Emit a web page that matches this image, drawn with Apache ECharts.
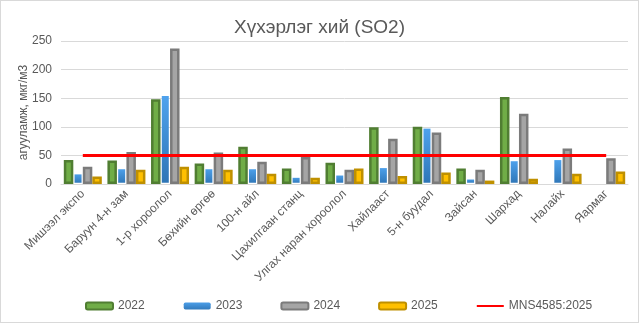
<!DOCTYPE html>
<html>
<head>
<meta charset="utf-8">
<script src="https://cdn.jsdelivr.net/npm/echarts@6/dist/echarts.min.js"></script>
<style>
  html, body { margin: 0; padding: 0; background: #fff; }
  #chart { width: 637px; height: 321px; border: 1px solid #D9D9D9; }
</style>
</head>
<body>
<div id="chart"></div>
<script>
// Monitoring stations
const stations = ['Мишээл экспо', 'Баруун 4-н зам', '1-р хороолол', 'Бөхийн өргөө', '100-н айл',
  'Цахилгаан станц', 'Улгах наран хороолол', 'Хайлааст', '5-н буудал', 'Зайсан',
  'Шархад', 'Налайх', 'Яармаг'];
// Annual mean SO2, мкг/м3 (null = no measurement)
const so2_2022 = [42, 41, 148, 36, 65, 27, 37, 99, 100, 27, 152, null, null];
const so2_2023 = [19, 28, 156, 28, 28, 13, 17, 30, 99, 10, 42, 44, null];
const so2_2024 = [30, 56, 237, 55, 39, 47, 25, 79, 90, 25, 123, 62, 45];
const so2_2025 = [13, 25, 30, 25, 18, 11, 27, 14, 20, 6, 9, 18, 22];
// MNS 4585:2025 norm
const normValues = [50, 50, 50, 50, 50, 50, 50, 50, 50, 50, 50, 50, 50];
const yTicks = { min: 0, max: 250, step: 50 };

const font = 'Liberation Sans, Arial, sans-serif';
const txt = '#595959';

function barSeries(name, data, fill, border) {
  return {
    name, type: 'bar', data,
    barWidth: 9.5, barGap: '0%',
    itemStyle: { color: fill, borderColor: border, borderWidth: 2.5 }
  };
}

const chart = echarts.init(document.getElementById('chart'));
chart.setOption({
  animation: false,
  textStyle: { fontFamily: font, color: txt },
  title: {
    text: 'Хүхэрлэг хий (SO2)', left: 'center', top: 12,
    textStyle: { fontFamily: font, fontSize: 19, fontWeight: 'normal', color: txt }
  },
  grid: { left: 60, right: 10, top: 40, bottom: 138 },
  legend: {
    left: 79, top: 294, itemWidth: 27, itemHeight: 7, itemGap: 38,
    textStyle: { fontFamily: font, fontSize: 12, color: txt },
    data: ['2022', '2023', '2024', '2025',
      { name: 'MNS4585:2025', itemStyle: { color: 'rgba(0,0,0,0)', borderWidth: 0 } }]
  },
  xAxis: {
    type: 'category', data: stations,
    axisLine: { lineStyle: { color: '#D9D9D9' } },
    axisTick: { show: false },
    axisLabel: { rotate: 45, fontSize: 12, color: txt, fontFamily: font, margin: 8, interval: 0 }
  },
  yAxis: {
    type: 'value', min: yTicks.min, max: yTicks.max, interval: yTicks.step,
    name: 'агууламж, мкг/м3', nameLocation: 'middle', nameGap: 31, nameMoveOverlap: false,
    nameTextStyle: { fontSize: 12, color: txt, fontFamily: font },
    axisLabel: { fontSize: 12, color: txt, fontFamily: font, margin: 9 },
    splitLine: { lineStyle: { color: '#D9D9D9' } },
    axisLine: { show: false }, axisTick: { show: false }
  },
  series: [
    barSeries('2022', so2_2022, '#70AD47', '#507E32'),
    barSeries('2023', so2_2023, new echarts.graphic.LinearGradient(0, 0, 0, 1, [
      { offset: 0, color: '#4FA3EE' }, { offset: 1, color: '#2E75B6' }]), 'rgba(0,0,0,0)'),
    barSeries('2024', so2_2024, '#A5A5A5', '#7B7B7B'),
    barSeries('2025', so2_2025, '#FFC000', '#BF9000'),
    {
      name: 'MNS4585:2025', type: 'line', data: normValues, symbol: 'none',
      lineStyle: { color: '#FF0000', width: 3 }, itemStyle: { color: '#FF0000' }
    }
  ]
});
</script>
</body>
</html>
